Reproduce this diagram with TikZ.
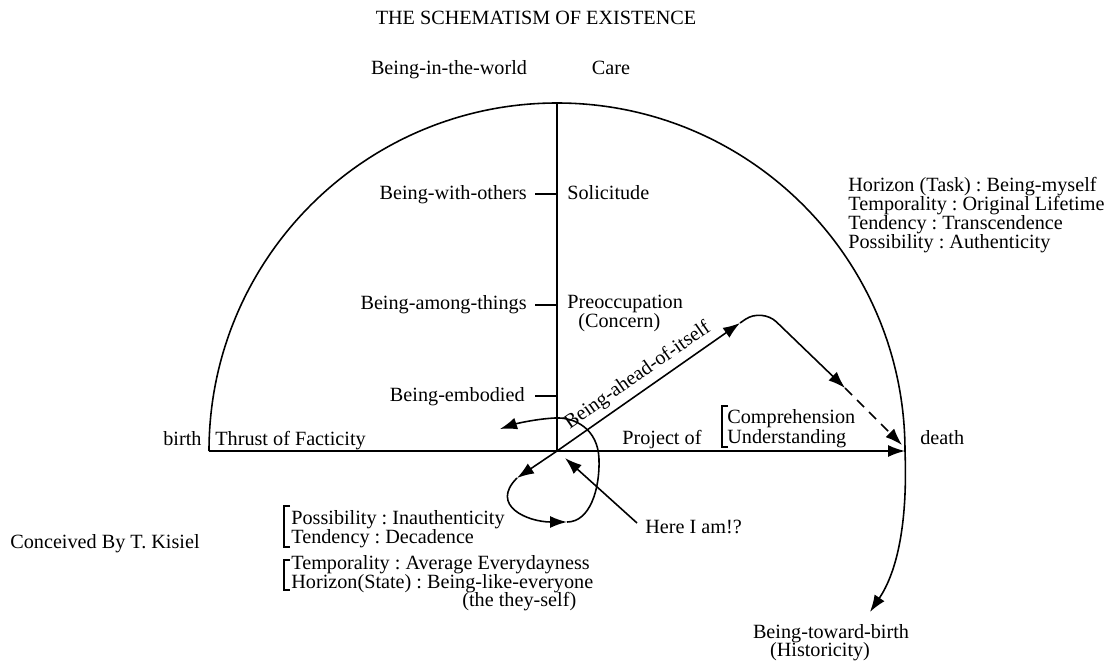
\documentclass[tikz,border=0pt]{standalone}
\usepackage{fontspec}
\setmainfont{Liberation Serif}
\usetikzlibrary{arrows.meta}
\frenchspacing
\begin{document}
\begin{tikzpicture}[x=0.02cm,y=0.02cm,
  lbl/.style={inner sep=0pt, font=\fontsize{11.5}{14}\selectfont},
  ln/.style={line width=0.9pt},
  arr/.style={ln, -{Latex[length=0.34cm,width=0.24cm]}},
  brk/.style={line width=0.9pt}]
\useasboundingbox (0,0) rectangle (1106,664);
% main geometry
\coordinate (O) at (557,213);
\coordinate (L) at (209,213);
\coordinate (R) at (905,213);
\coordinate (T) at (557,561);
\draw[ln] (L) arc[start angle=180,end angle=0,radius=348];
\draw[ln] (O) -- (T);
\draw[arr] (L) -- (R);
% texts
\node[lbl, anchor=base] (title) at (536,639.5) {THE SCHEMATISM OF EXISTENCE};
\node[lbl, anchor=base] (bitw) at (449,589) {Being-in-the-world};
\node[lbl, anchor=base] (care) at (611,589) {Care};
\node[lbl, anchor=base east] (bwo) at (527,465) {Being-with-others};
\node[lbl, anchor=base west] (sol) at (567,465) {Solicitude};
\node[lbl, anchor=base east] (bat) at (527,355) {Being-among-things};
\node[lbl, anchor=base west] (pre) at (567,356) {Preoccupation};
\node[lbl, anchor=base west] (con) at (578,337) {(Concern)};
\node[lbl, anchor=base east] (bem) at (525,263) {Being-embodied};
\node[lbl, anchor=base west] (birth) at (163,219) {birth};
\node[lbl, anchor=base west] (thr) at (215,219) {Thrust of Facticity};
\node[lbl, anchor=base west] (proj) at (622,220) {Project of};
\node[lbl, anchor=base west] (comp) at (727,241) {Comprehension};
\node[lbl, anchor=base west] (und) at (727,221) {Understanding};
\node[lbl, anchor=base west] (death) at (920,220) {death};
\node[lbl, anchor=base west] (r1) at (848,473) {Horizon (Task) : Being-myself};
\node[lbl, anchor=base west] (r2) at (848,454) {Temporality : Original Lifetime};
\node[lbl, anchor=base west] (r3) at (848,435) {Tendency : Transcendence};
\node[lbl, anchor=base west] (r4) at (848,416) {Possibility : Authenticity};
\node[lbl, anchor=base west] (l1) at (291,140) {Possibility : Inauthenticity};
\node[lbl, anchor=base west] (l2) at (291,121) {Tendency : Decadence};
\node[lbl, anchor=base west] (l3) at (291,95) {Temporality : Average Everydayness};
\node[lbl, anchor=base west] (l4) at (291,76) {Horizon(State) : Being-like-everyone};
\node[lbl, anchor=base west] (l5) at (462,58) {(the they-self)};
\node[lbl, anchor=base west] (kis) at (10,116) {Conceived By T. Kisiel};
\node[lbl, anchor=base west] (here) at (645,131) {Here I am!?};
\node[lbl, anchor=base] (btb) at (831,26) {Being-toward-birth};
\node[lbl, anchor=base] (hist) at (820,8) {(Historicity)};
% ticks
\draw[ln] (535,470) -- (557,470);
\draw[ln] (535,359) -- (557,359);
\draw[ln] (535,268) -- (557,268);
% brackets
\draw[brk] (728,258) -- (722,258) -- (722,217) -- (728,217);
\draw[brk] (290,158) -- (284,158) -- (284,117) -- (290,117);
\draw[brk] (290,104) -- (284,104) -- (284,74) -- (290,74);
% being-ahead-of-itself
\coordinate (a1) at (740,341);
\coordinate (c1) at (762,356);
\coordinate (a3) at (845,276);
\coordinate (a4) at (902,219);
\draw[arr] (O) -- node[lbl, sloped, above=3pt, pos=0.49] {Being-ahead-of-itself} (a1);
\draw[arr, rounded corners=0.4cm] (a1) -- (c1) -- (a3);
\draw[arr, dash pattern=on 0.2cm off 0.14cm] (a3) -- (a4);
% loop
\coordinate (b1) at (517,186);
\coordinate (b2) at (567,142);
\coordinate (b3) at (500,235);
\draw[arr] (O) -- (b1);
\draw[arr] (b1) to[out=225,in=180,looseness=1.5] (b2);
\draw[arr] (b2) .. controls (590,142) and (600,175) .. (599,205)
  .. controls (598,235) and (575,247) .. (555,246)
  .. controls (535,245) and (515,240) .. (b3);
% here I am
\coordinate (hs) at (637,141);
\coordinate (ht) at (565,206);
\draw[arr] (hs) -- (ht);
% toward birth
\coordinate (hb) at (870,52);
\draw[arr] (R) .. controls (908,134) and (895,89) .. (hb);
\end{tikzpicture}
\end{document}
